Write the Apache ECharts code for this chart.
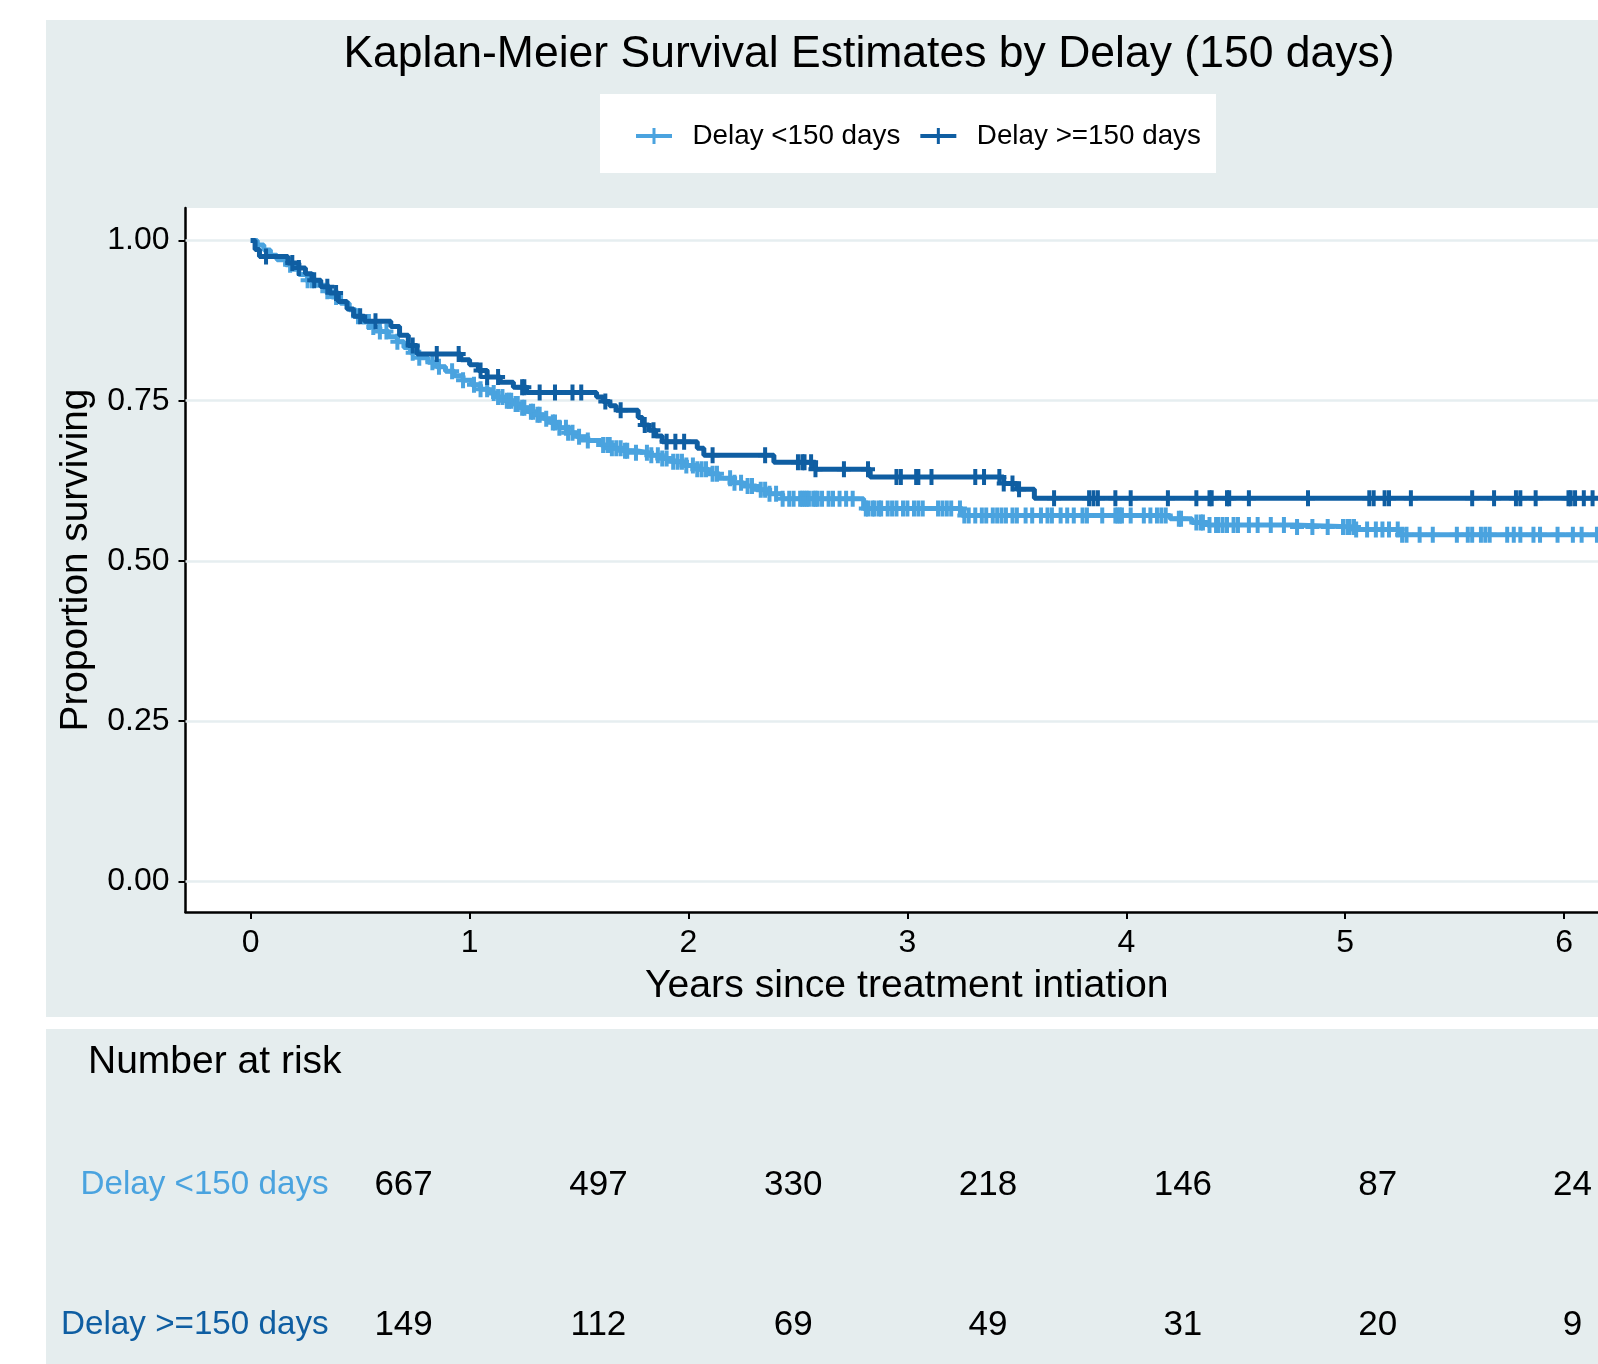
<!DOCTYPE html>
<html>
<head>
<meta charset="utf-8">
<script src="https://cdn.jsdelivr.net/npm/echarts@6/dist/echarts.min.js"></script>
<style>
html,body{margin:0;padding:0;background:#fff;}
#chart{width:1598px;height:1364px;}
</style>
</head>
<body>
<div id="chart"></div>
<script>
// ---------------- data ----------------
const groups = ['Delay <150 days', 'Delay >=150 days'];
const xTicks = [0, 1, 2, 3, 4, 5, 6];
const yTicks = [0, 0.25, 0.5, 0.75, 1];

// Kaplan-Meier step function, group <150 days
const kmTimeLt = [0,0.03,0.06,0.09,0.12,0.16,0.19,0.22,0.26,0.30,0.34,0.37,0.41,0.45,0.48,0.51,0.55,0.59,0.63,0.67,0.70,0.73,0.77,0.81,0.85,0.89,0.93,0.97,1.01,1.05,1.09,1.12,1.16,1.20,1.24,1.27,1.30,1.34,1.37,1.41,1.45,1.49,1.54,1.60,1.65,1.71,1.76,1.82,1.88,1.93,1.98,2.04,2.09,2.14,2.20,2.25,2.31,2.37,2.43,2.80,3.25,4.20,4.30,4.37,4.76,5.05,5.25,6.16];
const kmSurvLt = [1.000,0.993,0.985,0.977,0.970,0.962,0.955,0.947,0.938,0.930,0.921,0.912,0.902,0.892,0.882,0.873,0.865,0.858,0.850,0.842,0.833,0.825,0.817,0.810,0.803,0.796,0.789,0.782,0.775,0.768,0.762,0.756,0.750,0.745,0.739,0.733,0.728,0.722,0.716,0.708,0.700,0.694,0.688,0.681,0.676,0.672,0.669,0.665,0.660,0.655,0.649,0.643,0.636,0.629,0.622,0.617,0.611,0.605,0.597,0.582,0.571,0.566,0.560,0.556,0.553,0.549,0.541,0.541];

// Kaplan-Meier step function, group >=150 days
const kmTimeGe = [0,0.02,0.04,0.17,0.22,0.25,0.28,0.32,0.36,0.40,0.44,0.47,0.52,0.64,0.68,0.72,0.76,0.96,1.00,1.04,1.08,1.14,1.20,1.26,1.58,1.61,1.64,1.67,1.77,1.79,1.82,1.85,1.88,2.04,2.07,2.39,2.58,2.83,3.44,3.50,3.58,6.16];
const kmSurvGe = [1.000,0.986,0.975,0.965,0.957,0.948,0.938,0.928,0.918,0.905,0.893,0.882,0.874,0.866,0.852,0.836,0.823,0.814,0.806,0.797,0.787,0.779,0.771,0.763,0.756,0.749,0.742,0.735,0.724,0.712,0.704,0.695,0.686,0.676,0.665,0.654,0.643,0.631,0.621,0.612,0.598,0.598];

// censoring times (years)
const censorLt = [0.18,0.26,0.28,0.35,0.39,0.49,0.54,0.56,0.59,0.62,0.67,0.74,0.77,0.83,0.86,0.92,0.97,1.02,1.05,1.08,1.11,1.13,1.15,1.17,1.18,1.19,1.21,1.22,1.24,1.25,1.28,1.29,1.31,1.32,1.35,1.38,1.39,1.41,1.44,1.45,1.47,1.50,1.54,1.61,1.63,1.64,1.65,1.67,1.69,1.71,1.72,1.76,1.81,1.83,1.86,1.88,1.90,1.93,1.95,1.97,1.99,2.02,2.04,2.06,2.08,2.11,2.13,2.19,2.21,2.24,2.27,2.29,2.33,2.35,2.37,2.40,2.43,2.46,2.48,2.51,2.52,2.53,2.54,2.55,2.57,2.58,2.59,2.61,2.64,2.66,2.69,2.72,2.75,2.81,2.82,2.84,2.85,2.87,2.88,2.91,2.93,2.95,2.98,3.00,3.03,3.05,3.07,3.14,3.16,3.18,3.20,3.24,3.26,3.28,3.31,3.34,3.36,3.39,3.41,3.43,3.45,3.48,3.50,3.54,3.57,3.61,3.64,3.66,3.70,3.73,3.76,3.80,3.82,3.89,3.95,3.96,3.97,3.98,4.02,4.08,4.11,4.14,4.16,4.18,4.24,4.25,4.32,4.34,4.35,4.38,4.41,4.42,4.44,4.46,4.49,4.51,4.56,4.60,4.66,4.72,4.78,4.85,4.92,4.99,5.01,5.02,5.04,5.05,5.10,5.14,5.17,5.20,5.24,5.26,5.28,5.34,5.40,5.51,5.56,5.58,5.62,5.64,5.66,5.74,5.77,5.80,5.86,5.89,5.97,6.04,6.08,6.15];
const censorGe = [0.07,0.19,0.22,0.29,0.35,0.39,0.50,0.57,0.74,0.85,0.95,1.05,1.08,1.13,1.24,1.25,1.32,1.39,1.47,1.51,1.62,1.69,1.80,1.84,1.90,1.94,1.98,2.11,2.35,2.50,2.52,2.53,2.56,2.58,2.71,2.82,2.95,2.97,3.04,3.05,3.11,3.31,3.35,3.42,3.44,3.48,3.51,3.67,3.83,3.85,3.87,3.95,4.02,4.19,4.32,4.38,4.39,4.46,4.47,4.56,4.83,5.11,5.13,5.18,5.20,5.30,5.58,5.68,5.78,5.80,5.87,6.02,6.03,6.05,6.09,6.13];

// number at risk at years 0..6
const riskLt = [667, 497, 330, 218, 146, 87, 24];
const riskGe = [149, 112, 69, 49, 31, 20, 9];

// ---------------- styling ----------------
const FONT = "'Liberation Sans', Arial, Helvetica, sans-serif";
const C_LT = '#4aa3df';
const C_GE = '#0f5ea2';
const PANEL = '#e5edee';
const PLUS = 'path://M-2,-8H2V-2H7V2H2V8H-2V2H-7V-2H-2Z';
const LEG_ICON = 'path://M-18,-2H-1.5V-8H1.5V-2H18V2H1.5V8H-1.5V2H-18Z';

function stepPairs(times, surv) { return times.map((t, i) => [t, surv[i]]); }
function survAt(times, surv, t) {
  let s = surv[0];
  for (let i = 0; i < times.length; i++) { if (times[i] <= t) s = surv[i]; else break; }
  return s;
}

const chart = echarts.init(document.getElementById('chart'), null, {renderer: 'canvas'});
const xMin = -0.2979, xMax = 6.1548, yMin = -0.0476, yMax = 1.0507;

const riskLabel = {show: true, position: 'inside', formatter: p => String(p.value[2]), fontFamily: FONT, fontSize: 35, color: '#000', opacity: 1};

chart.setOption({
  animation: false,
  textStyle: {fontFamily: FONT},
  graphic: [
    {type: 'rect', z: -10, shape: {x: 46, y: 20, width: 1560, height: 997}, style: {fill: PANEL}},
    {type: 'rect', z: -10, shape: {x: 46, y: 1029, width: 1560, height: 345}, style: {fill: PANEL}},
    {type: 'rect', z: -5, shape: {x: 600, y: 94, width: 616, height: 79}, style: {fill: '#ffffff'}},
    {type: 'text', z: 5, x: 869, y: 55, style: {text: 'Kaplan-Meier Survival Estimates by Delay (150 days)', fontFamily: FONT, fontSize: 44.5, fill: '#000', align: 'center', verticalAlign: 'middle'}},
    {type: 'text', z: 5, x: 88, y: 1062, style: {text: 'Number at risk', fontFamily: FONT, fontSize: 39, fill: '#000', align: 'left', verticalAlign: 'middle'}}
  ],
  legend: {
    data: [{name: groups[0], icon: LEG_ICON}, {name: groups[1], icon: LEG_ICON}],
    left: 636, top: 122, padding: 0,
    itemWidth: 37, itemHeight: 16, itemGap: 20,
    textStyle: {fontFamily: FONT, fontSize: 27.8, color: '#000', padding: [0, 0, 0, 15]}
  },
  grid: [
    {left: 185.5, top: 208, width: 1412.5, height: 704, show: true, backgroundColor: '#ffffff', borderWidth: 0},
    {left: 403.6, top: 1185, width: 1168.9, height: 140}
  ],
  xAxis: [
    {
      gridIndex: 0, type: 'value', min: xMin, max: xMax,
      axisLine: {show: true, onZero: false, lineStyle: {color: '#000', width: 2.5}},
      axisTick: {show: true, customValues: xTicks, length: 7, lineStyle: {color: '#000', width: 2}},
      axisLabel: {show: true, customValues: xTicks, fontFamily: FONT, fontSize: 32, color: '#000', margin: 15},
      splitLine: {show: false},
      name: 'Years since treatment intiation', nameLocation: 'middle', nameGap: 55,
      nameTextStyle: {fontFamily: FONT, fontSize: 39.2, color: '#000', padding: [0, 0, 0, 30]}
    },
    {gridIndex: 1, type: 'value', min: 0, max: 6, show: false}
  ],
  yAxis: [
    {
      gridIndex: 0, type: 'value', min: yMin, max: yMax,
      axisLine: {show: true, onZero: false, lineStyle: {color: '#000', width: 2.5}},
      axisTick: {show: true, customValues: yTicks, length: 7, lineStyle: {color: '#000', width: 2}},
      axisLabel: {show: true, customValues: yTicks, formatter: v => Number(v).toFixed(2), fontFamily: FONT, fontSize: 32, color: '#000', margin: 16},
      splitLine: {show: false},
      name: 'Proportion surviving', nameLocation: 'middle', nameGap: 90,
      nameTextStyle: {fontFamily: FONT, fontSize: 38.8, color: '#000'}
    },
    {
      gridIndex: 1, type: 'category', data: [groups[1], groups[0]], boundaryGap: false,
      axisLine: {show: false}, axisTick: {show: false}, splitLine: {show: false},
      axisLabel: {margin: 75, fontFamily: FONT, fontSize: 33.2, color: v => (v === groups[0] ? C_LT : C_GE)}
    }
  ],
  series: [
    {
      name: groups[0], type: 'line', step: 'end', xAxisIndex: 0, yAxisIndex: 0,
      data: stepPairs(kmTimeLt, kmSurvLt), showSymbol: false, color: C_LT,
      lineStyle: {color: C_LT, width: 5}, z: 2, silent: true,
      markLine: {
        z: 1, silent: true, symbol: 'none', label: {show: false},
        lineStyle: {color: '#e6eef0', width: 2.5, type: 'solid'},
        data: yTicks.map(v => ({yAxis: v}))
      }
    },
    {
      name: groups[0] + ' censored', type: 'scatter', xAxisIndex: 0, yAxisIndex: 0,
      data: censorLt.map(t => [t, survAt(kmTimeLt, kmSurvLt, t)]),
      symbol: PLUS, symbolSize: [14, 16], itemStyle: {color: C_LT, opacity: 1}, z: 3, silent: true
    },
    {
      name: groups[1], type: 'line', step: 'end', xAxisIndex: 0, yAxisIndex: 0,
      data: stepPairs(kmTimeGe, kmSurvGe), showSymbol: false, color: C_GE,
      lineStyle: {color: C_GE, width: 5}, z: 4, silent: true
    },
    {
      name: groups[1] + ' censored', type: 'scatter', xAxisIndex: 0, yAxisIndex: 0,
      data: censorGe.map(t => [t, survAt(kmTimeGe, kmSurvGe, t)]),
      symbol: PLUS, symbolSize: [14, 16], itemStyle: {color: C_GE, opacity: 1}, z: 5, silent: true
    },
    {
      name: 'risk <150', type: 'scatter', xAxisIndex: 1, yAxisIndex: 1,
      data: xTicks.map((x, i) => [x, groups[0], riskLt[i]]), symbolSize: 0, silent: true,
      itemStyle: {opacity: 1}, label: riskLabel
    },
    {
      name: 'risk >=150', type: 'scatter', xAxisIndex: 1, yAxisIndex: 1,
      data: xTicks.map((x, i) => [x, groups[1], riskGe[i]]), symbolSize: 0, silent: true,
      itemStyle: {opacity: 1}, label: riskLabel
    }
  ]
});
</script>
</body>
</html>
